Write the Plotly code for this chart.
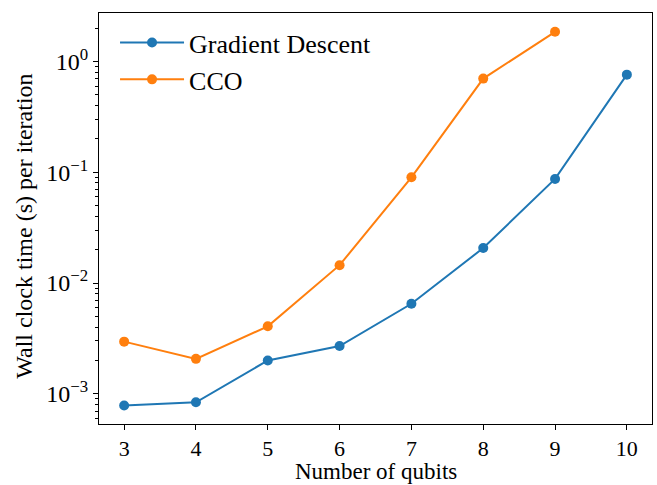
import plotly.graph_objects as go

# Wall clock time per iteration vs. number of qubits
qubits_gd = [3, 4, 5, 6, 7, 8, 9, 10]
time_gd = [7.85e-4, 8.4e-4, 2.0e-3, 2.7e-3, 6.5e-3, 0.0207, 0.087, 0.76]

qubits_cco = [3, 4, 5, 6, 7, 8, 9]
time_cco = [2.96e-3, 2.07e-3, 4.07e-3, 0.0145, 0.090, 0.70, 1.85]

x_ticks = [3, 4, 5, 6, 7, 8, 9, 10]
y_tickvals = [1e-3, 1e-2, 1e-1, 1e0]
y_ticktext = ["10<sup>−3</sup>", "10<sup>−2</sup>", "10<sup>−1</sup>", "10<sup>0</sup>"]
y_minor = [m * 10.0 ** e for e in range(-4, 1) for m in range(2, 10)]

FONT = "Liberation Serif, DejaVu Serif, serif"
BLUE = "#1f77b4"
ORANGE = "#ff7f0e"

fig = go.Figure()
fig.add_trace(go.Scatter(
    x=qubits_gd, y=time_gd, mode="lines+markers", name="Gradient Descent",
    line=dict(color=BLUE, width=2), marker=dict(color=BLUE, size=10),
))
fig.add_trace(go.Scatter(
    x=qubits_cco, y=time_cco, mode="lines+markers", name="CCO",
    line=dict(color=ORANGE, width=2), marker=dict(color=ORANGE, size=10),
))

# axis titles placed as annotations around the plot area
fig.add_annotation(
    text="Wall clock time (s) per iteration",
    xref="paper", yref="paper", x=-0.136, y=0.482,
    xanchor="center", yanchor="middle", textangle=-90, showarrow=False,
    font=dict(family=FONT, size=24, color="black"),
)
fig.add_annotation(
    text="Number of qubits",
    xref="paper", yref="paper", x=0.5, y=-0.1484,
    xanchor="center", yanchor="bottom", showarrow=False, borderpad=0,
    font=dict(family=FONT, size=23, color="black"),
)

fig.update_layout(
    width=657, height=485,
    margin=dict(l=99, r=5, t=13, b=61),
    paper_bgcolor="white", plot_bgcolor="white",
    font=dict(family=FONT, size=23, color="black"),
    showlegend=True,
    legend=dict(
        x=0.029, y=0.985, xanchor="left", yanchor="top",
        bgcolor="rgba(0,0,0,0)", borderwidth=0,
        font=dict(family=FONT, size=26, color="black"),
        itemwidth=64, tracegroupgap=0,
    ),
    xaxis=dict(
        range=[2.65, 10.35], tickvals=x_ticks, automargin=False,
        showgrid=False, zeroline=False,
        showline=True, linecolor="black", linewidth=1, mirror=True,
        ticks="outside", ticklen=5, tickwidth=1, tickcolor="black",
        tickfont=dict(family=FONT, size=22),
    ),
    yaxis=dict(
        type="log", range=[-3.272, 0.437], automargin=False,
        tickvals=y_tickvals, ticktext=y_ticktext,
        showgrid=False, zeroline=False,
        showline=True, linecolor="black", linewidth=1, mirror=True,
        ticks="outside", ticklen=5, tickwidth=1, tickcolor="black",
        tickfont=dict(family=FONT, size=24),
        minor=dict(tickvals=y_minor, ticks="outside", ticklen=3, tickwidth=0.8,
                   tickcolor="black", showgrid=False),
    ),
)

fig.write_html("out.html")
